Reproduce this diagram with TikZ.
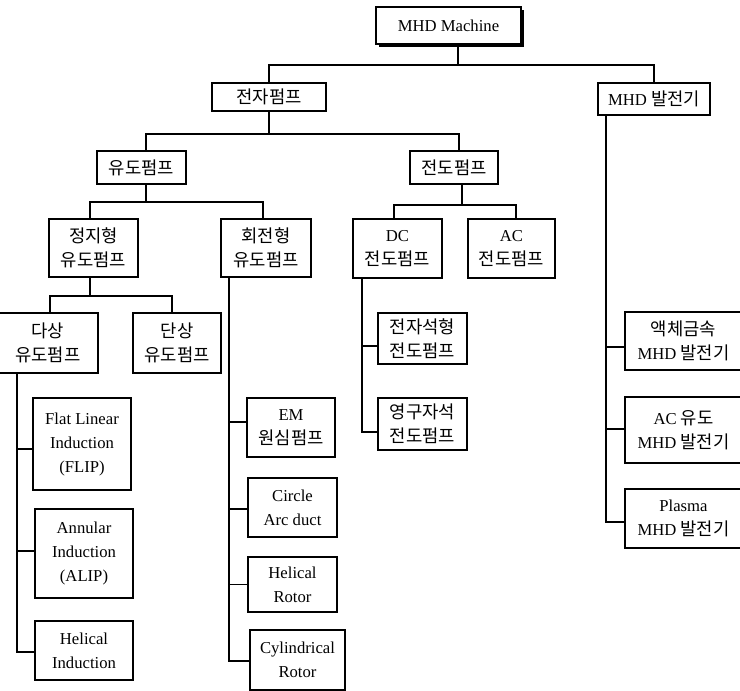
\documentclass[tikz,border=0pt]{standalone}
\usepackage{fontspec}
\setmainfont{Liberation Serif}
\newfontfamily\krfont{Noto Sans CJK KR}
\newcommand{\kor}[1]{{\krfont\fontsize{13.3}{18}\selectfont #1}}
\usetikzlibrary{calc,shadows}
\begin{document}
\begin{tikzpicture}[x=0.75pt,y=-0.75pt,
  bx/.style 2 args={draw, line width=0.8pt, inner sep=0pt, align=center,
    minimum width={#1*0.75pt}, minimum height={#2*0.75pt},
    font=\fontsize{12.5}{18}\selectfont},
  ln/.style={line width=0.8pt}]
\useasboundingbox (0,0) rectangle (740,691);
\fill[white] (0,0) rectangle (740,691);

\node[bx={145}{37}, fill=white, drop shadow={shadow xshift=2pt, shadow yshift=-2pt, fill=black, opacity=1}] (top) at (448.5,25.5) {MHD Machine};
\node[bx={114}{28}] (ep) at (269,97) {\kor{전자펌프}};
\node[bx={112}{32}] (gen) at (654,99) {MHD \kor{발전기}};
\node[bx={89}{33}] (ind) at (141.5,167.5) {\kor{유도펌프}};
\node[bx={88}{33}] (cond) at (454,167.5) {\kor{전도펌프}};
\node[bx={89}{58}] (stat) at (93.5,248) {\kor{정지형}\\\kor{유도펌프}};
\node[bx={90}{58}] (rot) at (266,248) {\kor{회전형}\\\kor{유도펌프}};
\node[bx={89}{59}] (dc) at (397.5,248.5) {DC\\\kor{전도펌프}};
\node[bx={87}{59}] (ac) at (511.5,248.5) {AC\\\kor{전도펌프}};
\node[bx={100}{60}] (multi) at (48,343) {\kor{다상}\\\kor{유도펌프}};
\node[bx={88}{60}] (single) at (177,343) {\kor{단상}\\\kor{유도펌프}};
\node[bx={98}{92}] (flip) at (82,444) {Flat Linear\\Induction\\(FLIP)};
\node[bx={98}{89}] (alip) at (84,553.5) {Annular\\Induction\\(ALIP)};
\node[bx={98}{59}] (heli) at (84,650.5) {Helical\\Induction};
\node[bx={88}{59}] (em) at (291,427.5) {EM\\\kor{원심펌프}};
\node[bx={89}{59}] (circ) at (292.5,507.5) {Circle\\Arc duct};
\node[bx={89}{55}] (hrot) at (292.5,584.5) {Helical\\Rotor};
\node[bx={95}{60}] (cyl) at (297.5,660) {Cylindrical\\Rotor};
\node[bx={89}{51}] (ems) at (422.5,338.5) {\kor{전자석형}\\\kor{전도펌프}};
\node[bx={89}{52}] (pm) at (422.5,424) {\kor{영구자석}\\\kor{전도펌프}};
\node[bx={117}{58}] (lm) at (683.5,341) {\kor{액체금속}\\MHD \kor{발전기}};
\node[bx={117}{66}] (acg) at (683.5,430) {AC \kor{유도}\\MHD \kor{발전기}};
\node[bx={117}{59}] (pl) at (683.5,518.5) {Plasma\\MHD \kor{발전기}};

% level 0-1
\coordinate (j0) at (458,65);
\draw[ln] (j0 |- top.south) -- (j0);
\draw[ln] (ep.north) |- (j0) -| (gen.north);
% level 1-2
\coordinate (j1) at (269,134);
\draw[ln] (ep.south) -- (j1);
\draw[ln] ($(ind.north)+(4.5,0)$) |- (j1) -| ($(cond.north)+(5,0)$);
% level 2-3
\coordinate (j2) at (146,202);
\draw[ln] ($(ind.south)+(4.5,0)$) -- (j2);
\draw[ln] ($(stat.north)+(-3.5,0)$) |- (j2) -| ($(rot.north)+(-3,0)$);
\coordinate (j3) at (462,205);
\draw[ln] ($(cond.south)+(8,0)$) -- (j3);
\draw[ln] ($(dc.north)+(-3.5,0)$) |- (j3) -| ($(ac.north)+(4.5,0)$);
\coordinate (j4) at (90,296);
\draw[ln] ($(stat.south)+(-3.5,0)$) -- (j4);
\draw[ln] ($(multi.north)+(2,0)$) |- (j4) -| ($(single.north)+(-5,0)$);

% spine under multi
\coordinate (s1) at (17,0);
\coordinate (b1) at ($(flip.west)+(0,5)$);
\coordinate (b2) at ($(alip.west)+(0,-2.5)$);
\coordinate (b3) at ($(heli.west)+(0,1.5)$);
\draw[ln] (s1 |- multi.south) -- (s1 |- b3) -- (b3);
\draw[ln] (s1 |- b1) -- (b1);
\draw[ln] (s1 |- b2) -- (b2);

% spine under rot
\coordinate (s2) at (229,0);
\coordinate (r1) at ($(em.west)+(0,-5.5)$);
\coordinate (r2) at ($(circ.west)+(0,1.5)$);
\coordinate (r3) at (hrot.west);
\coordinate (r4) at ($(cyl.west)+(0,1)$);
\draw[ln] (s2 |- rot.south) -- (s2 |- r4) -- (r4);
\draw[ln] (s2 |- r1) -- (r1);
\draw[ln] (s2 |- r2) -- (r2);
\draw[ln] (s2 |- r3) -- (r3);

% spine under dc
\coordinate (s3) at (362,0);
\coordinate (d1) at ($(ems.west)+(0,7.5)$);
\coordinate (d2) at ($(pm.west)+(0,8)$);
\draw[ln] (s3 |- dc.south) -- (s3 |- d2) -- (d2);
\draw[ln] (s3 |- d1) -- (d1);

% spine under gen
\coordinate (s4) at (606,0);
\coordinate (g1) at ($(lm.west)+(0,6)$);
\coordinate (g2) at ($(acg.west)+(0,-1)$);
\coordinate (g3) at ($(pl.west)+(0,3.5)$);
\draw[ln] (s4 |- gen.south) -- (s4 |- g3) -- (g3);
\draw[ln] (s4 |- g1) -- (g1);
\draw[ln] (s4 |- g2) -- (g2);
\end{tikzpicture}
\end{document}
